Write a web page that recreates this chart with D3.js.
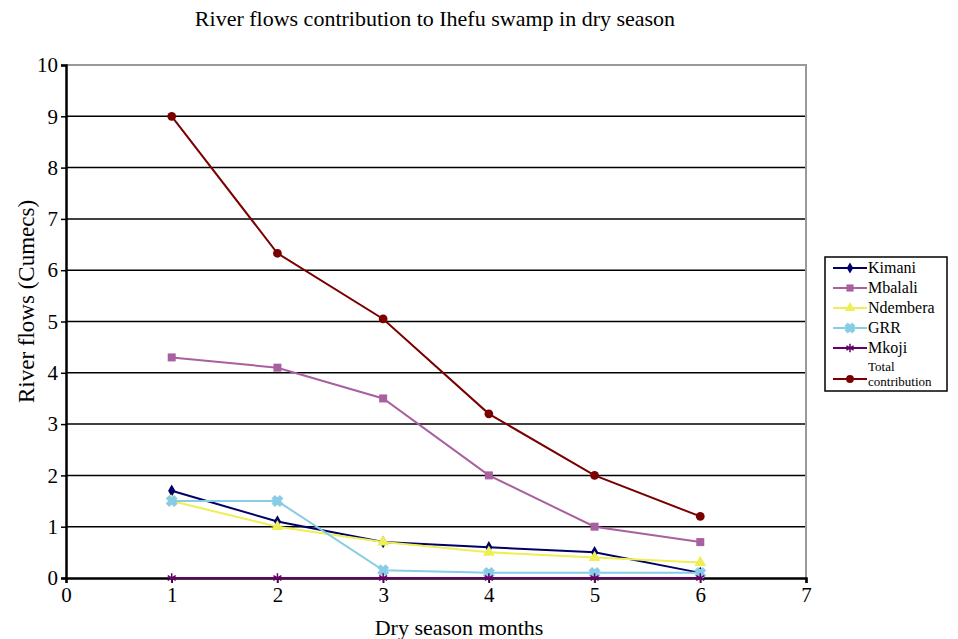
<!DOCTYPE html>
<html>
<head>
<meta charset="utf-8">
<script src="https://cdn.jsdelivr.net/npm/d3@7"></script>
<style>
  body { margin: 0; background: #fff; }
  svg text { font-family: "Liberation Serif", "Times New Roman", serif !important; fill: #000; }
</style>
</head>
<body>
<svg id="chart" width="958" height="639"></svg>
<script>
const months = [1, 2, 3, 4, 5, 6];
const kimani = [1.7, 1.1, 0.7, 0.6, 0.5, 0.1];
const mbalali = [4.3, 4.1, 3.5, 2.0, 1.0, 0.7];
const ndembera = [1.5, 1.0, 0.7, 0.5, 0.4, 0.3];
const grr = [1.5, 1.5, 0.15, 0.1, 0.1, 0.1];
const mkoji = [0, 0, 0, 0, 0, 0];
const total = [9.0, 6.33, 5.05, 3.2, 2.0, 1.2];
const xTicks = [0, 1, 2, 3, 4, 5, 6, 7];
const yTicks = [0, 1, 2, 3, 4, 5, 6, 7, 8, 9, 10];

const series = [
  { name: "Kimani", values: kimani, color: "#000066", symbol: d3.symbolDiamond, size: 45 },
  { name: "Mbalali", values: mbalali, color: "#a8609f", symbol: d3.symbolSquare, size: 64 },
  { name: "Ndembera", values: ndembera, color: "#eeee55", symbol: d3.symbolTriangle, size: 60 },
  { name: "GRR", values: grr, color: "#88cce6", symbol: d3.symbolCross, size: 60, rotate: 45 },
  { name: "Mkoji", values: mkoji, color: "#660066", symbol: d3.symbolAsterisk, size: 60 },
  { name: "Total contribution", values: total, color: "#7a0000", symbol: d3.symbolCircle, size: 60 }
];

const svg = d3.select("#chart");
const plotLeft = 66, plotRight = 806, plotTop = 65, plotBottom = 578;

const x = d3.scaleLinear().domain([0, 7]).range([plotLeft, plotRight]);
const y = d3.scaleLinear().domain([0, 10]).range([plotBottom, plotTop]);

// grid lines
svg.append("g")
  .selectAll("line")
  .data(yTicks.filter(d => d > 0 && d < 10))
  .enter().append("line")
  .attr("x1", plotLeft).attr("x2", plotRight)
  .attr("y1", d => y(d)).attr("y2", d => y(d))
  .attr("stroke", "#000").attr("stroke-width", 1.5);

// top and right border (gray)
svg.append("path")
  .attr("d", `M${plotLeft},${plotTop}H${plotRight}V${plotBottom}`)
  .attr("fill", "none").attr("stroke", "#999").attr("stroke-width", 2);

// axes
const yAxis = d3.axisLeft(y).tickValues(yTicks).tickFormat(d3.format("d")).tickSize(5).tickPadding(3);
const gy = svg.append("g").attr("transform", `translate(${plotLeft},0)`).call(yAxis);
gy.select(".domain").attr("stroke-width", 2.5);
gy.selectAll(".tick line").attr("stroke-width", 1.5);
gy.selectAll("text").style("font-size", "21px");

const xAxis = d3.axisBottom(x).tickValues(xTicks).tickFormat(d3.format("d")).tickSize(5).tickPadding(4);
const gx = svg.append("g").attr("transform", `translate(0,${plotBottom})`).call(xAxis);
gx.select(".domain").attr("stroke-width", 2.5);
gx.selectAll(".tick line").attr("stroke-width", 1.5);
gx.selectAll("text").style("font-size", "21px");

// lines and markers
const line = d3.line()
  .x((d, i) => x(months[i]))
  .y(d => y(d));

series.forEach(s => {
  svg.append("path")
    .datum(s.values)
    .attr("d", line)
    .attr("fill", "none")
    .attr("stroke", s.color)
    .attr("stroke-width", 2);

  svg.append("g")
    .selectAll("path")
    .data(s.values)
    .enter().append("path")
    .attr("d", d3.symbol().type(s.symbol).size(s.size))
    .attr("transform", (d, i) => `translate(${x(months[i])},${y(d)}) rotate(${s.rotate || 0})`)
    .attr("fill", s.color)
    .attr("stroke", s.color)
    .attr("stroke-width", s.symbol === d3.symbolCross || s.symbol === d3.symbolAsterisk ? 1.5 : 0);
});

// title and axis labels
svg.append("text")
  .attr("x", 435).attr("y", 26)
  .attr("text-anchor", "middle")
  .style("font-size", "22px")
  .text("River flows contribution to Ihefu swamp in dry season");

svg.append("text")
  .attr("x", 459).attr("y", 635)
  .attr("text-anchor", "middle")
  .style("font-size", "22px")
  .text("Dry season months");

svg.append("text")
  .attr("transform", `translate(34,${(plotTop + plotBottom) / 2 - 20}) rotate(-90)`)
  .attr("text-anchor", "middle")
  .style("font-size", "23px")
  .text("River flows (Cumecs)");

// legend
const legend = svg.append("g").attr("transform", "translate(825,257)");
legend.append("rect")
  .attr("width", 122).attr("height", 134)
  .attr("fill", "#fff").attr("stroke", "#000").attr("stroke-width", 1.5);

series.forEach((s, i) => {
  const last = s.name === "Total contribution";
  const ly = last ? 122 : 11 + i * 20;
  const g = legend.append("g").attr("transform", `translate(0,${ly})`);
  g.append("line")
    .attr("x1", 8).attr("x2", 42)
    .attr("stroke", s.color).attr("stroke-width", 2);
  g.append("path")
    .attr("d", d3.symbol().type(s.symbol).size(s.size * 0.8))
    .attr("transform", `translate(25,0) rotate(${s.rotate || 0})`)
    .attr("fill", s.color).attr("stroke", s.color)
    .attr("stroke-width", s.symbol === d3.symbolCross || s.symbol === d3.symbolAsterisk ? 1.5 : 0);
  if (last) {
    g.append("text").attr("x", 43).attr("y", -8).style("font-size", "13px").text("Total");
    g.append("text").attr("x", 43).attr("y", 7).style("font-size", "13px").text("contribution");
  } else {
    g.append("text").attr("x", 43).attr("y", 5).style("font-size", "16px").text(s.name);
  }
});
</script>
</body>
</html>
